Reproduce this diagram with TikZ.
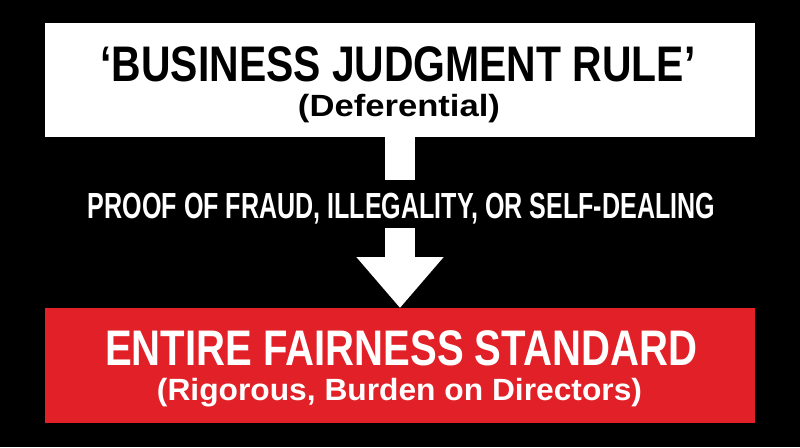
\documentclass[tikz,border=0pt]{standalone}
\usepackage{fontspec}
\setmainfont{Liberation Sans}
\usepackage{graphicx}
\usetikzlibrary{arrows.meta}
\definecolor{boxred}{RGB}{226,32,39}
\newcommand\fitw[2]{\resizebox{#1}{\height}{#2}}
\begin{document}
\begin{tikzpicture}[x=1pt,y=-1pt,
  box/.style={minimum width=710pt, inner sep=0pt, outer sep=0pt},
  txt/.style={anchor=base, inner sep=0pt, font=\bfseries},
  flow/.style={white, line width=30pt}]
\fill[black] (0,0) rectangle (800,447);
\useasboundingbox (0,0) rectangle (800,447);
\node[box, fill=white, minimum height=114pt] (rule) at (400,80) {};
\node[box, fill=boxred, minimum height=115pt] (fair) at (400,365.5) {};
\node[txt, text=black] (ruletitle) at (398,81) {\fitw{595pt}{\fontsize{50}{60}\selectfont ‘BUSINESS JUDGMENT RULE’}};
\node[txt, text=black] (rulesub) at (399,116.5) {\fitw{202pt}{\fontsize{30.7}{36}\selectfont (Deferential)}};
\node[txt, text=white] (proof) at (401.5,218) {\fitw{627pt}{\fontsize{36.3}{42}\selectfont PROOF OF FRAUD, ILLEGALITY, OR SELF-DEALING}};
\node[txt, text=white] (fairtitle) at (401,365) {\fitw{592pt}{\fontsize{50}{60}\selectfont ENTIRE FAIRNESS STANDARD}};
\node[txt, text=white] (fairsub) at (399.5,400) {\fitw{485pt}{\fontsize{30.7}{36}\selectfont (Rigorous, Burden on Directors)}};
\coordinate (gaptop) at (400,180);
\coordinate (gapbot) at (400,228);
\draw[flow] (rule.south) -- (gaptop);
\draw[flow, -{Triangle[length=51pt, width=84pt]}] (gapbot) -- (fair.north);
\end{tikzpicture}
\end{document}
